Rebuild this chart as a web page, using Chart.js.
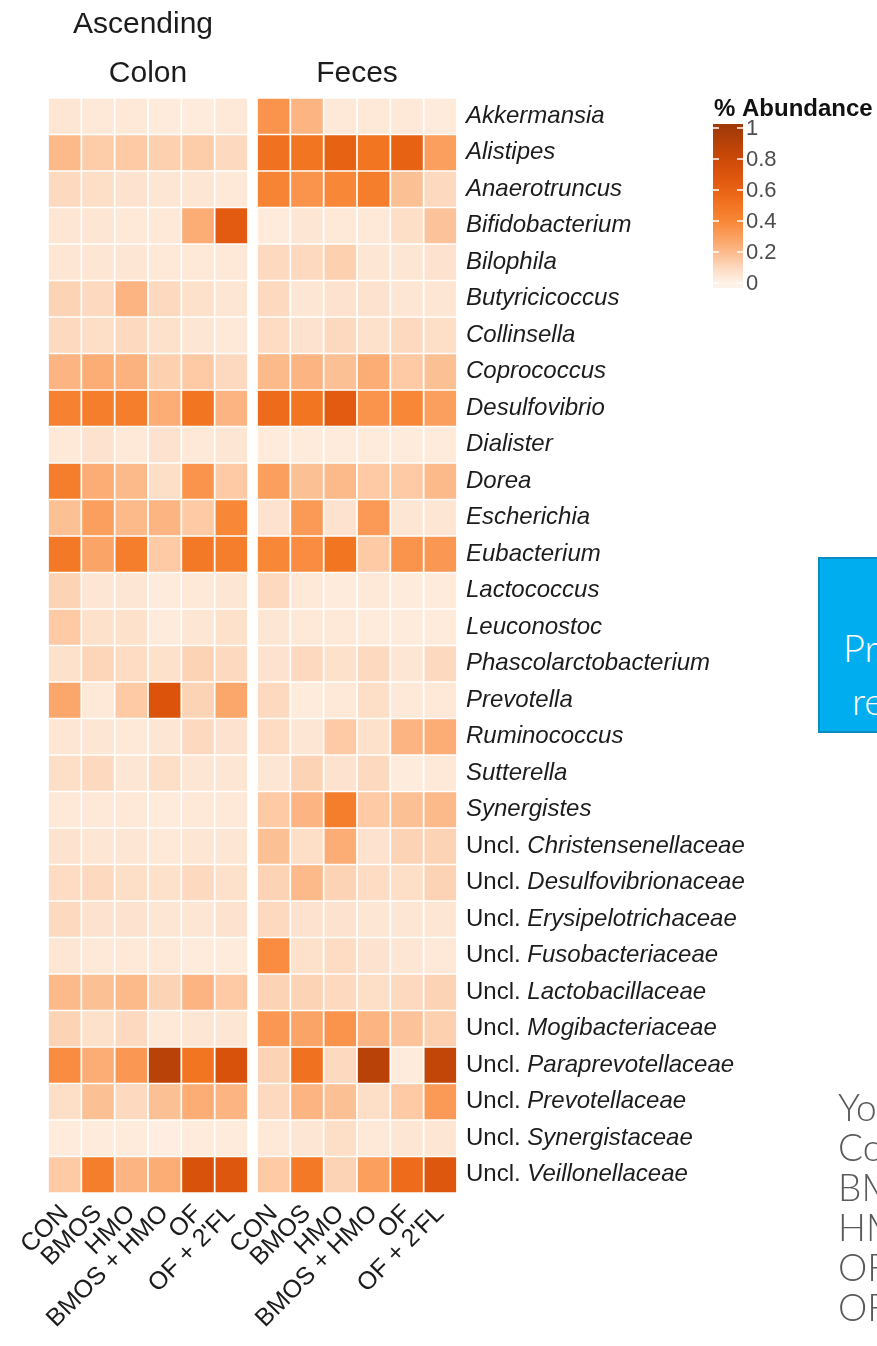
<!DOCTYPE html>
<html>
<head>
<meta charset="utf-8">
<title>% Abundance heatmap</title>
<script src="https://cdn.jsdelivr.net/npm/chart.js@4.4.1/dist/chart.umd.min.js"></script>
<style>
  html, body { margin: 0; padding: 0; background: #fff; }
  body { width: 877px; height: 1346px; overflow: hidden; position: relative; }
  #heatmap { position: absolute; left: 0; top: 0; }
  .note-box { position: absolute; left: 818px; top: 557px; width: 320px; height: 172px;
    background: #00aeef; border: 2px solid #0b8cc0; color: #fff;
    font-family: Lato, "Open Sans", sans-serif; font-weight: 300; font-size: 38px; white-space: nowrap; }
  .note-box span { position: absolute; line-height: 40px; }
  .side-text { position: absolute; left: 838px; top: 1087px; color: #5a5a5a;
    font-family: Lato, "Open Sans", sans-serif; font-weight: 300; font-size: 37px; line-height: 40px; white-space: nowrap; }
</style>
</head>
<body>
<canvas id="heatmap" width="877" height="1346"></canvas>

<div class="note-box"><span style="left:23px;top:68px">Preliminary</span><span style="left:32px;top:121px">results</span></div>
<div class="side-text">Young<br>Control<br>BMOS<br>HMO<br>OF<br>OF + 2'FL</div>

<script>
// data :
const genera = [
  "Akkermansia", "Alistipes", "Anaerotruncus", "Bifidobacterium", "Bilophila",
  "Butyricicoccus", "Collinsella", "Coprococcus", "Desulfovibrio", "Dialister",
  "Dorea", "Escherichia", "Eubacterium", "Lactococcus", "Leuconostoc",
  "Phascolarctobacterium", "Prevotella", "Ruminococcus", "Sutterella", "Synergistes",
  "Uncl. Christensenellaceae", "Uncl. Desulfovibrionaceae", "Uncl. Erysipelotrichaceae",
  "Uncl. Fusobacteriaceae", "Uncl. Lactobacillaceae", "Uncl. Mogibacteriaceae",
  "Uncl. Paraprevotellaceae", "Uncl. Prevotellaceae", "Uncl. Synergistaceae",
  "Uncl. Veillonellaceae"
];
const groups = ["CON", "BMOS", "HMO", "BMOS + HMO", "OF", "OF + 2'FL"];
const panels = ["Ascending\nColon", "Feces"];
const legendTicks = [0, 0.2, 0.4, 0.6, 0.8, 1];

// one row per genus, one value per group
const colon = [
  [0.05, 0.04, 0.04, 0.03, 0.03, 0.04],
  [0.20, 0.14, 0.15, 0.13, 0.14, 0.10],
  [0.10, 0.08, 0.06, 0.05, 0.05, 0.04],
  [0.05, 0.05, 0.04, 0.04, 0.25, 0.65],
  [0.05, 0.05, 0.05, 0.04, 0.04, 0.04],
  [0.12, 0.10, 0.22, 0.10, 0.07, 0.05],
  [0.10, 0.08, 0.10, 0.07, 0.05, 0.04],
  [0.22, 0.25, 0.23, 0.13, 0.15, 0.10],
  [0.43, 0.45, 0.45, 0.25, 0.50, 0.22],
  [0.04, 0.06, 0.04, 0.06, 0.04, 0.05],
  [0.45, 0.25, 0.20, 0.08, 0.35, 0.15],
  [0.18, 0.30, 0.20, 0.22, 0.15, 0.40],
  [0.48, 0.28, 0.45, 0.15, 0.48, 0.45],
  [0.12, 0.05, 0.05, 0.03, 0.04, 0.05],
  [0.15, 0.07, 0.07, 0.03, 0.05, 0.07],
  [0.07, 0.11, 0.09, 0.07, 0.12, 0.10],
  [0.27, 0.04, 0.15, 0.70, 0.12, 0.27],
  [0.05, 0.05, 0.04, 0.05, 0.10, 0.06],
  [0.08, 0.10, 0.05, 0.08, 0.05, 0.05],
  [0.04, 0.04, 0.04, 0.03, 0.04, 0.04],
  [0.06, 0.05, 0.05, 0.04, 0.05, 0.05],
  [0.09, 0.10, 0.08, 0.07, 0.10, 0.07],
  [0.10, 0.06, 0.06, 0.05, 0.05, 0.06],
  [0.05, 0.04, 0.04, 0.04, 0.03, 0.03],
  [0.20, 0.18, 0.20, 0.12, 0.22, 0.15],
  [0.12, 0.07, 0.10, 0.04, 0.05, 0.05],
  [0.38, 0.25, 0.33, 0.90, 0.50, 0.72],
  [0.08, 0.18, 0.10, 0.18, 0.25, 0.22],
  [0.03, 0.03, 0.03, 0.02, 0.03, 0.03],
  [0.15, 0.45, 0.22, 0.25, 0.72, 0.68]
];
const feces = [
  [0.35, 0.22, 0.04, 0.04, 0.04, 0.03],
  [0.52, 0.50, 0.60, 0.50, 0.60, 0.30],
  [0.42, 0.35, 0.40, 0.45, 0.18, 0.10],
  [0.03, 0.05, 0.04, 0.04, 0.08, 0.17],
  [0.10, 0.10, 0.13, 0.05, 0.05, 0.06],
  [0.10, 0.05, 0.06, 0.06, 0.05, 0.05],
  [0.09, 0.06, 0.10, 0.07, 0.10, 0.08],
  [0.20, 0.22, 0.18, 0.25, 0.15, 0.18],
  [0.55, 0.50, 0.65, 0.35, 0.40, 0.30],
  [0.03, 0.03, 0.03, 0.03, 0.03, 0.03],
  [0.30, 0.18, 0.20, 0.15, 0.15, 0.20],
  [0.06, 0.32, 0.06, 0.32, 0.05, 0.05],
  [0.40, 0.38, 0.50, 0.15, 0.35, 0.33],
  [0.10, 0.04, 0.03, 0.04, 0.03, 0.03],
  [0.05, 0.04, 0.04, 0.03, 0.03, 0.03],
  [0.06, 0.10, 0.07, 0.10, 0.05, 0.10],
  [0.10, 0.03, 0.04, 0.08, 0.04, 0.04],
  [0.09, 0.05, 0.15, 0.07, 0.22, 0.25],
  [0.05, 0.12, 0.06, 0.10, 0.03, 0.04],
  [0.15, 0.22, 0.45, 0.15, 0.18, 0.20],
  [0.18, 0.08, 0.25, 0.06, 0.12, 0.12],
  [0.12, 0.20, 0.12, 0.09, 0.08, 0.12],
  [0.10, 0.06, 0.06, 0.05, 0.05, 0.05],
  [0.38, 0.07, 0.09, 0.06, 0.05, 0.04],
  [0.12, 0.12, 0.10, 0.08, 0.10, 0.12],
  [0.33, 0.28, 0.35, 0.22, 0.17, 0.13],
  [0.12, 0.52, 0.10, 0.90, 0.03, 0.85],
  [0.10, 0.22, 0.18, 0.08, 0.15, 0.32],
  [0.04, 0.05, 0.08, 0.04, 0.05, 0.05],
  [0.15, 0.48, 0.12, 0.30, 0.55, 0.68]
];

// colour scale (white -> orange -> brown)
const colorStops = [
  [0, "#fef2e8"], [0.1, "#fdd9bf"], [0.2, "#fcba8b"], [0.3, "#fb9f5e"],
  [0.4, "#f88738"], [0.5, "#f27522"], [0.6, "#e86214"], [0.7, "#dc540c"],
  [0.8, "#cc4a08"], [0.9, "#b84208"], [1, "#a23a08"]
];
function hexRgb(h) {
  return [parseInt(h.slice(1, 3), 16), parseInt(h.slice(3, 5), 16), parseInt(h.slice(5, 7), 16)];
}
function abundanceColor(v) {
  v = Math.max(0, Math.min(1, v));
  for (let k = 1; k < colorStops.length; k++) {
    if (v <= colorStops[k][0]) {
      const [p0, c0] = colorStops[k - 1], [p1, c1] = colorStops[k];
      const t = (v - p0) / (p1 - p0);
      const a = hexRgb(c0), b = hexRgb(c1);
      return "rgb(" + a.map((x, n) => Math.round(x + (b[n] - x) * t)).join(",") + ")";
    }
  }
  return colorStops[colorStops.length - 1][1];
}

// layout of the columns : 6 colon columns, small gap, 6 feces columns
const panelGap = 0.27;
const nCols = groups.length * 2;
function colStart(j) { return j < groups.length ? j : j + panelGap; }
const colCenters = Array.from({ length: nCols }, (_, j) => colStart(j) + 0.5);
const colLabels = groups.concat(groups);

const datasets = genera.map((name, i) => {
  const vals = colon[i].concat(feces[i]);
  return {
    label: name,
    data: vals.map((v, j) => ({ x: colCenters[j], y: [i, i + 1] })),
    backgroundColor: vals.map(v => abundanceColor(v)),
    borderColor: "#ffffff",
    borderWidth: 1.2,
    borderSkipped: false,
    barPercentage: 1,
    categoryPercentage: 1,
    grouped: false
  };
});

const textColor = "#1c1c1c";
const fontFamily = '"Liberation Sans", Arial, sans-serif';
Chart.defaults.font.family = fontFamily;

// genus names on the right, "Uncl." upright and the rest italic
const rowLabels = {
  id: "rowLabels",
  afterDraw(chart) {
    const { ctx, chartArea, scales: { y } } = chart;
    ctx.save();
    ctx.fillStyle = textColor;
    ctx.textBaseline = "middle";
    genera.forEach((name, i) => {
      const yy = y.getPixelForValue(i + 0.5);
      let xx = chartArea.right + 9;
      if (name.startsWith("Uncl. ")) {
        ctx.font = "24px " + fontFamily;
        ctx.fillText("Uncl. ", xx, yy);
        xx += ctx.measureText("Uncl. ").width;
        name = name.slice(6);
      }
      ctx.font = "italic 24px " + fontFamily;
      ctx.fillText(name, xx, yy);
    });
    ctx.restore();
  }
};

// panel strip titles
const panelTitles = {
  id: "panelTitles",
  afterDraw(chart) {
    const { ctx, scales: { x } } = chart;
    ctx.save();
    ctx.fillStyle = textColor;
    ctx.font = "30px " + fontFamily;
    ctx.textAlign = "center";
    ctx.textBaseline = "alphabetic";
    panels.forEach((title, p) => {
      const cx = x.getPixelForValue(colStart(p * groups.length) + groups.length / 2);
      const lines = title.split("\n");
      lines.forEach((line, n) => {
        ctx.fillText(line, cx - (n < lines.length - 1 ? 5 : 0), 82 - (lines.length - 1 - n) * 49);
      });
    });
    ctx.restore();
  }
};

// colour bar legend
const colorBar = {
  id: "colorBar",
  afterDraw(chart) {
    const ctx = chart.ctx;
    const bx = 713, bw = 30, yZero = 283, yOne = 128;
    const yOf = v => yZero - v * (yZero - yOne);
    ctx.save();
    const grad = ctx.createLinearGradient(0, yOf(0), 0, yOf(1));
    colorStops.forEach(s => grad.addColorStop(s[0], s[1]));
    ctx.fillStyle = grad;
    ctx.fillRect(bx, yOf(1) - 4, bw, yOf(0) - yOf(1) + 9);
    ctx.strokeStyle = "#ffffff";
    ctx.lineWidth = 1.5;
    ctx.fillStyle = "#4d4d4d";
    ctx.font = "22px " + fontFamily;
    ctx.textBaseline = "middle";
    legendTicks.forEach(t => {
      const ty = yOf(t);
      ctx.beginPath();
      ctx.moveTo(bx, ty); ctx.lineTo(bx + 6, ty);
      ctx.moveTo(bx + bw - 6, ty); ctx.lineTo(bx + bw, ty);
      ctx.stroke();
      ctx.fillText(String(t), bx + bw + 3, ty + 1);
    });
    ctx.fillStyle = "#111";
    ctx.font = "bold 24px " + fontFamily;
    ctx.textBaseline = "alphabetic";
    ctx.fillText("% Abundance", 714, 116);
    ctx.restore();
  }
};

const heatCanvas = document.getElementById("heatmap");
const heatChart = new Chart(heatCanvas, {
  type: "bar",
  data: { datasets: datasets },
  options: {
    responsive: false,
    devicePixelRatio: 1,
    animation: false,
    layout: { padding: { left: 48, top: 98, right: 420, bottom: 0 } },
    scales: {
      x: {
        type: "linear",
        offset: false,
        min: 0,
        max: nCols + panelGap,
        grid: { display: false, drawTicks: false },
        border: { display: false },
        afterBuildTicks: scale => { scale.ticks = colCenters.map(v => ({ value: v })); },
        afterFit: scale => { scale.height = 153; },
        ticks: {
          autoSkip: false,
          minRotation: 45,
          maxRotation: 45,
          padding: 6,
          color: textColor,
          font: { size: 25 },
          callback: (value, index) => colLabels[index]
        }
      },
      y: {
        type: "linear",
        min: 0,
        max: genera.length,
        reverse: true,
        display: false
      }
    },
    plugins: {
      legend: { display: false },
      tooltip: { enabled: false }
    }
  },
  plugins: [rowLabels, panelTitles, colorBar]
});
</script>
</body>
</html>
